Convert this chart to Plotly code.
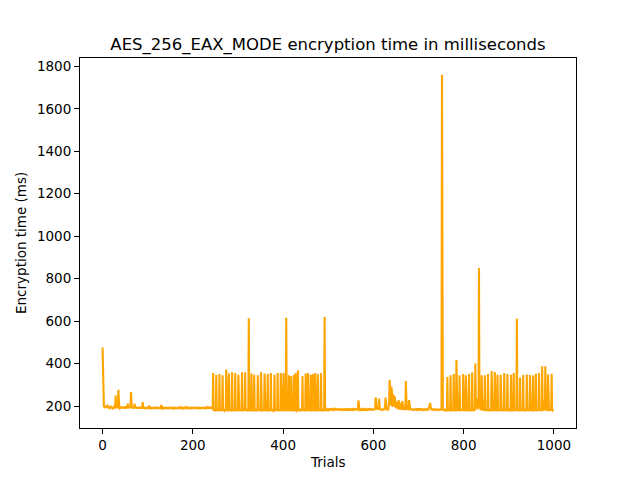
import plotly.graph_objects as go

# encryption time per trial (ms), split by phase
warmup_ms = [
    476, 318, 205, 198, 196, 201, 194, 197, 192, 199, 195, 206, 197, 193, 196, 191, 198, 194, 190, 196,
    193, 195, 190, 197, 192, 189, 196, 194, 199, 250, 196, 192, 198, 193, 190, 277, 197, 193, 189, 195,
    192, 198, 190, 194, 196, 189, 193, 197, 191, 195, 188, 194, 199, 190, 192, 196, 211, 193, 189, 195,
    191, 197, 192, 266, 194, 190, 196, 188, 193, 197, 190, 211, 195, 189, 192, 196, 190, 194, 188, 195,
    192, 189, 196, 191, 194, 188, 193, 197, 190, 219, 192, 188, 195, 190, 193, 187, 194, 191, 189, 196,
    190, 193, 188, 195, 203, 189, 192, 187, 194, 190, 193, 188, 195, 191, 187, 193, 190, 196, 188, 192,
    189, 194, 187, 192, 190, 195, 188, 191, 193, 187, 206, 190, 188, 194, 189, 192, 187, 195, 190, 188,
    193, 189, 196, 187, 191, 194, 188, 192, 190, 187, 195, 189, 193, 188, 191, 196, 187, 190, 194, 188,
    192, 189, 195, 187, 191, 193, 188, 190, 196, 187, 192, 189, 194, 188, 191, 187, 195, 190, 188, 193,
    189, 196, 187, 192, 190, 194, 188, 191, 197, 187, 193, 189, 190, 195, 188, 192, 187, 194, 190, 196,
    188, 191, 193, 187, 195, 189, 192, 188, 194, 190, 187, 196, 191, 189, 193, 188, 195, 190, 187, 194,
    189, 192, 196, 188, 191, 194, 187, 193, 190, 197, 188, 192, 189, 195, 191, 188, 194, 190, 196, 189,
    192, 188, 195, 190, 187,
]

burst_a_ms = [
    356, 182, 178, 185, 180, 176, 184, 348, 179, 183, 177, 186, 181, 178, 351, 184, 176, 182, 187, 179,
    183, 345, 177, 185, 180, 178, 186, 181, 177, 372, 183, 179, 186, 176, 182, 353, 178, 185, 180, 177,
    184, 181, 359, 176, 183, 187, 179, 182, 177, 356, 185, 180, 178, 184, 176, 181, 348, 186, 179, 183,
    177, 182, 185, 178, 359, 181, 176, 184, 179, 187, 180, 359, 177, 183, 186, 178, 181, 176, 184, 614,
    179, 185, 177, 182, 180, 353, 176, 184, 181, 178, 186, 348, 180, 177, 183, 179, 185, 176, 182, 345,
    178, 184, 180, 186, 177, 181, 359, 183, 176, 179, 185, 182, 177, 184, 353, 180, 178, 186, 176, 183,
    179, 351, 185, 177, 182, 180, 176, 184, 356, 178, 183, 186, 179, 177, 182, 185, 348, 176, 181, 184,
    178, 183, 180, 356, 177, 185, 179, 182, 176, 184, 356, 181, 178, 186, 180, 177, 356, 183, 179, 185,
    176, 182, 616, 180, 184, 177, 183, 179, 345, 181, 186, 176, 182, 342, 178, 185, 180, 177, 183, 348,
    179, 184, 176, 356, 182, 185, 178, 180, 369, 177, 183, 186, 179, 181, 176, 184, 178, 182, 342, 180,
    185, 177, 183, 179, 176, 353, 184, 181, 178, 186, 356, 180, 177, 183, 179, 185, 348, 176, 182, 184,
    178, 351, 181, 177, 185, 180, 356, 183, 176, 179, 186, 182, 351, 178, 184, 177, 181, 185, 179, 356,
    176, 183, 180, 186, 178, 182, 177, 620, 184, 179, 185, 181, 177, 186, 183,
]

quiet_ms = [
    186, 181, 189, 184, 179, 187, 182, 190, 185, 180, 188, 183, 178, 186, 191, 182, 187, 180, 184, 189,
    181, 186, 179, 188, 183, 190, 180, 185, 182, 187, 178, 184, 189, 181, 186, 179, 183, 188, 180, 185,
    190, 182, 178, 187, 183, 186, 180, 189, 184, 179, 186, 181, 188, 183, 178, 185, 190, 182, 187, 180,
    184, 189, 181, 186, 179, 188, 195, 227, 190, 183, 180, 186, 182, 188, 179, 185, 181, 187, 183, 178,
    186, 182, 189, 180, 185, 183, 178, 187, 181, 184, 190, 179, 186, 182, 188, 180, 185, 183, 179, 187,
    182, 186, 180, 189, 184, 240, 232, 196, 188, 183, 190, 186, 200, 235, 191, 184, 180, 187, 182, 186,
    179, 188, 183, 181, 186, 190, 198, 240, 193, 185, 182, 188, 184, 180, 195, 226, 323, 300, 214, 202,
    290, 270, 208, 196, 255, 212, 200, 247, 230, 198, 190, 205, 220, 194, 186, 192, 228, 200, 189, 184,
    215, 193, 186, 182, 224, 198, 188, 183, 190, 185, 181, 196, 318, 240, 192, 186, 183, 188, 181, 228,
    196, 187, 182, 189, 184, 180, 186, 183, 188, 179, 185, 182, 187, 181, 190, 184, 179, 186, 183, 188,
    180, 185, 189, 182, 187, 179, 184, 190, 181, 186, 183, 178, 188, 182, 185, 180, 187, 183, 189, 181,
    184, 179, 186, 182, 190, 198, 214, 195, 185, 181, 187, 183, 179, 186, 182, 188, 180, 185, 183, 178,
    186, 181, 184, 188, 179, 185, 182, 187, 180, 184,
]

burst_b_ms = [
    183, 188, 1760, 314, 186, 179, 184, 177, 182, 186, 178, 183, 180, 176, 337, 184, 179, 186, 177, 182,
    180, 345, 176, 184, 181, 178, 186, 183, 351, 177, 182, 185, 179, 176, 417, 184, 180, 187, 178, 183,
    176, 345, 182, 179, 185, 177, 184, 181, 178, 351, 186, 180, 177, 183, 179, 345, 184, 176, 182, 187,
    178, 181, 351, 177, 185, 180, 183, 176, 184, 359, 179, 182, 186, 177, 181, 185, 401, 190, 212, 238,
    196, 184, 226, 192, 850, 205, 248, 188, 181, 186, 345, 215, 232, 184, 179, 186, 182, 345, 177, 184,
    180, 186, 178, 183, 351, 176, 182, 185, 179, 184, 177, 181, 365, 186, 179, 183, 177, 185, 180, 361,
    182, 176, 184, 179, 186, 348, 181, 177, 184, 180, 186, 178, 348, 183, 176, 182, 185, 179, 184, 177,
    356, 181, 186, 178, 183, 180, 176, 351, 184, 179, 185, 177, 182, 180, 186, 348, 178, 183, 176, 184,
    181, 356, 179, 185, 177, 182, 186, 180, 611, 184, 178, 183, 176, 185, 181, 333, 177, 184, 180, 186,
    178, 182, 346, 179, 185, 176, 183, 180, 186, 177, 349, 184, 178, 182, 186, 179, 176, 346, 183, 180,
    185, 177, 182, 179, 344, 184, 176, 183, 186, 180, 352, 178, 185, 181, 177, 184, 179, 356, 182, 186,
    178, 183, 176, 185, 388, 210, 226, 184, 179, 186, 181, 388, 222, 236, 185, 180, 177, 349, 183, 179,
    186, 178, 182, 185, 180, 352, 177, 183, 179, 181,
]

x_ticks = [0, 200, 400, 600, 800, 1000]
y_ticks = [200, 400, 600, 800, 1000, 1200, 1400, 1600, 1800]

encryption_ms = warmup_ms + burst_a_ms + quiet_ms + burst_b_ms
trials = list(range(len(encryption_ms)))

fig = go.Figure()
fig.add_trace(go.Scatter(
    x=trials,
    y=encryption_ms,
    mode="lines",
    line=dict(color="#FFA500", width=2.1),
    showlegend=False,
))

# matplotlib-like axes: 5% padding around the data
n = len(encryption_ms)
lo, hi = min(encryption_ms), max(encryption_ms)
pad_x = 0.05 * (n - 1)
pad_y = 0.05 * (hi - lo)

axis_style = dict(
    showgrid=False,
    zeroline=False,
    showline=True,
    mirror=True,
    linecolor="black",
    linewidth=1.1,
    ticks="outside",
    ticklen=5,
    tickwidth=1.1,
    tickcolor="black",
    tickfont=dict(family="DejaVu Sans", size=13.5, color="black"),
)

# the page has an 8px body margin, so the plot box is pulled up/left by 8px
fig.update_layout(
    width=640,
    height=480,
    margin=dict(l=72, r=72, t=50, b=60, autoexpand=False),
    paper_bgcolor="white",
    plot_bgcolor="white",
    font=dict(family="DejaVu Sans", color="black"),
    title=dict(
        text="AES_256_EAX_MODE encryption time in milliseconds",
        x=0.5, xref="paper", xanchor="center",
        y=1 - 36 / 480, yref="container", yanchor="middle",
        font=dict(family="DejaVu Sans", size=16.5, color="black"),
    ),
    xaxis=dict(range=[-pad_x, n - 1 + pad_x], tickvals=x_ticks, **axis_style),
    yaxis=dict(range=[lo - pad_y, hi + pad_y], tickvals=y_ticks, **axis_style),
    annotations=[
        dict(text="Trials", xref="paper", yref="paper", x=0.5, y=-0.092,
             xanchor="center", yanchor="middle", showarrow=False,
             font=dict(family="DejaVu Sans", size=13.5, color="black")),
        dict(text="Encryption time (ms)", xref="paper", yref="paper", x=-0.119, y=0.5,
             xanchor="center", yanchor="middle", textangle=-90, showarrow=False,
             font=dict(family="DejaVu Sans", size=13.5, color="black")),
    ],
)

fig.write_html("out.html")
